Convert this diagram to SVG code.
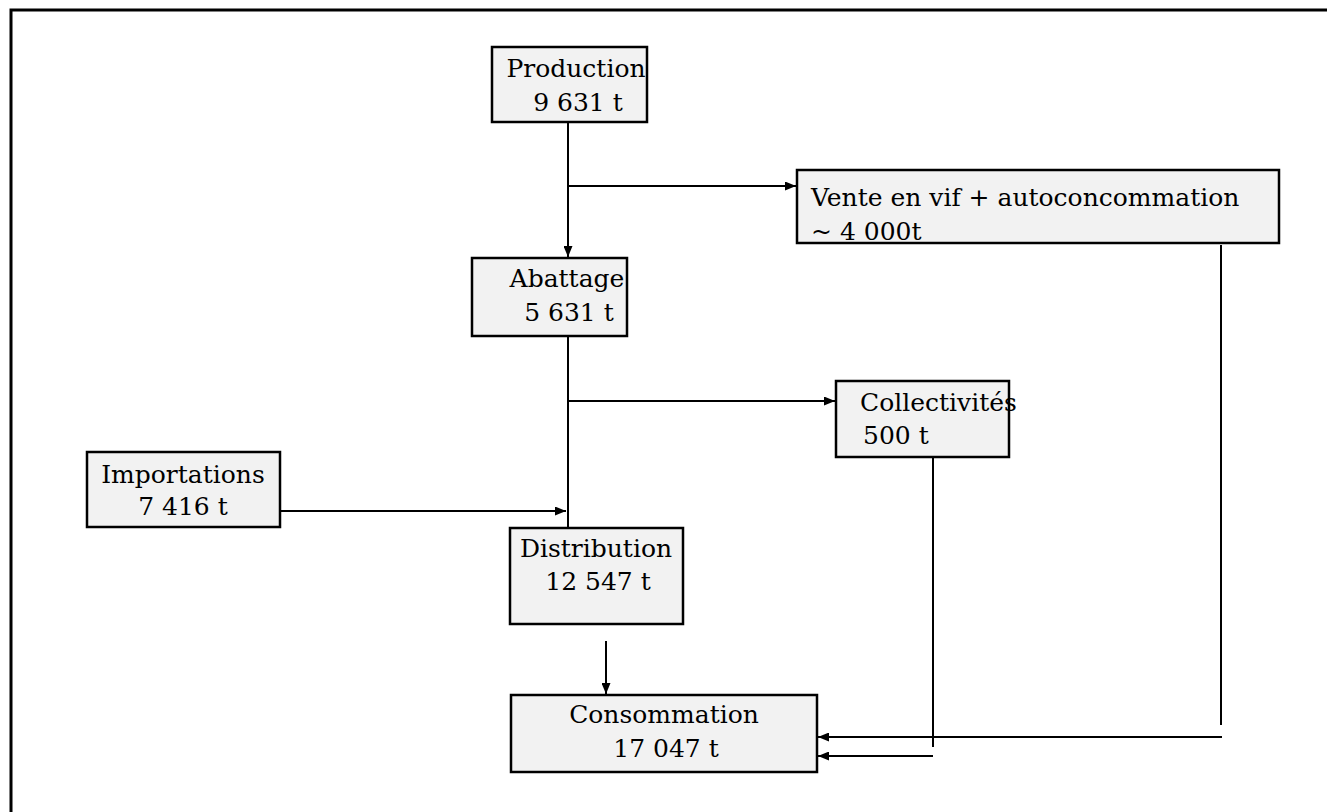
<svg xmlns="http://www.w3.org/2000/svg" width="1327" height="812" viewBox="0 0 1327 812">
<style>
.box{fill:#f2f2f2;stroke:#000;stroke-width:2.5}
.t{font-family:"DejaVu Serif","Liberation Serif",serif;font-size:25px;fill:#000}
.m{text-anchor:middle}
.c{fill:none;stroke:#000;stroke-width:2}
.a{marker-end:url(#arr)}
</style>
<defs>
<marker id="arr" viewBox="0 0 11 9" refX="11" refY="4.5" markerWidth="11" markerHeight="9" markerUnits="userSpaceOnUse" orient="auto">
<path d="M0,0 L11,4.5 L0,9 Z" fill="#000"/>
</marker>
</defs>
<rect x="0" y="0" width="1327" height="812" fill="#fff"/>
<path d="M11,812 V10 H1327" fill="none" stroke="#000" stroke-width="3"/>
<g id="connectors">
<path class="c a" d="M568,122 V257"/>
<path class="c a" d="M568,186 H796"/>
<path class="c" d="M568,336 V528" stroke-width="2.8"/>
<path class="c a" d="M568,401 H835"/>
<path class="c a" d="M280,511 H566"/>
<path class="c a" d="M606,641 V694"/>
<path class="c" d="M1221,245 V725"/>
<path class="c a" d="M1222,737 H818"/>
<path class="c" d="M933,432 V747"/>
<path class="c a" d="M933,756 H818"/>
</g>
<g id="production">
<rect class="box" x="492" y="47" width="155" height="75"/>
<text class="t m" x="576" y="77">Production</text>
<text class="t m" x="578" y="111">9 631 t</text>
</g>
<g id="vente">
<rect class="box" x="797" y="170" width="482" height="73"/>
<text class="t" x="811" y="206">Vente en vif + autoconcommation</text>
<text class="t" x="811" y="240">~ 4 000t</text>
</g>
<g id="abattage">
<rect class="box" x="472" y="258" width="155" height="78"/>
<text class="t m" x="567" y="287">Abattage</text>
<text class="t m" x="569" y="321">5 631 t</text>
</g>
<g id="collectivites">
<rect class="box" x="836" y="381" width="173" height="76"/>
<text class="t" x="860" y="411">Collectivités</text>
<text class="t" x="863" y="444">500 t</text>
</g>
<g id="importations">
<rect class="box" x="87" y="452" width="193" height="75"/>
<text class="t m" x="183" y="483">Importations</text>
<text class="t m" x="183" y="515">7 416 t</text>
</g>
<g id="distribution">
<rect class="box" x="510" y="528" width="173" height="96"/>
<text class="t m" x="596" y="557">Distribution</text>
<text class="t m" x="598" y="590">12 547 t</text>
</g>
<g id="consommation">
<rect class="box" x="511" y="695" width="306" height="77"/>
<text class="t m" x="664" y="723">Consommation</text>
<text class="t m" x="666" y="757">17 047 t</text>
</g>
</svg>
